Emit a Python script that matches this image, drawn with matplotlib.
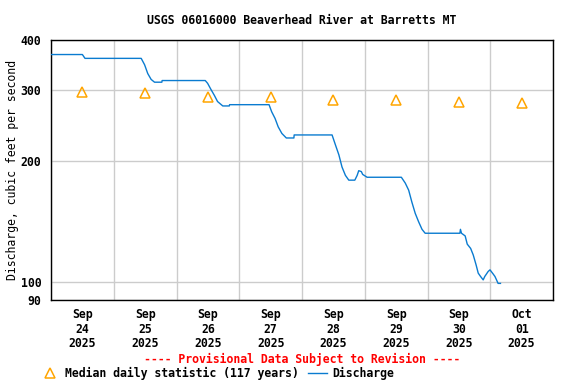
import matplotlib
matplotlib.use("Agg")
import matplotlib.pyplot as plt
import matplotlib.dates as mdates
import matplotlib.ticker as mticker
from matplotlib.lines import Line2D
import pandas as pd

# discharge readings: hours after 2025-09-24 00:00, cfs
hours = [0, 12.0, 12.5, 13.0, 34.5, 35.8, 37.0, 38.3, 39.6, 42.4, 42.5, 59.0,
         59.9, 61.2, 62.5, 63.7, 65.7, 68.2, 68.3, 83.4, 84.4, 85.7, 86.9, 88.3,
         90.0, 92.9, 93.0, 107.5, 108.8, 110.1, 111.3, 112.6, 113.9, 116.2, 117.1,
         117.7, 118.7, 119.2, 120.9, 134.0, 135.5, 136.8, 138.0, 139.3, 140.6,
         141.9, 143.1, 156.4, 156.6, 157.0, 158.4, 159.2, 160.5, 161.5, 162.6,
         163.4, 164.3, 165.3, 165.9, 167.2, 167.9, 169.1, 169.8, 170.4, 171.0, 171.9]
discharge = [368, 368, 364, 360, 360, 347, 330, 319, 314, 314, 317, 317,
             312, 301, 291, 281, 274, 274, 276, 276, 265, 255, 243, 234,
             228, 228, 232, 232, 219, 207, 193, 184, 179, 179, 184,
             189, 188, 185, 182, 182, 176, 169, 158, 148, 141,
             135, 132, 132, 135, 132, 130, 124, 121, 116.5, 110,
             105, 103, 101, 103, 106, 107, 104.5, 103, 101, 99, 99]

median_days = ["2025-09-24", "2025-09-25", "2025-09-26", "2025-09-27",
               "2025-09-28", "2025-09-29", "2025-09-30", "2025-10-01"]
median_vals = [297, 294.5, 288, 288, 284, 283, 281, 279]

y_ticks = [90, 100, 200, 300, 400]

start = pd.Timestamp("2025-09-24")
t = start + pd.to_timedelta(hours, unit="h")
mt = pd.to_datetime(median_days) + pd.Timedelta(hours=12)

plt.rcParams["font.family"] = "DejaVu Sans Mono"
plt.rcParams["font.weight"] = "bold"
plt.rcParams["font.size"] = 8.3

BLUE = "#0a7bd0"
ORANGE = "#ffa500"

fig = plt.figure(figsize=(5.76, 3.84), dpi=100)
ax = fig.add_axes([51 / 576, 84 / 384, 502 / 576, 260 / 384])

ax.plot(t, discharge, color=BLUE, lw=1.0, zorder=3)
ax.plot(mt, median_vals, ls="none", marker="^", ms=7, mfc="none",
        mec=ORANGE, mew=1.1, zorder=4)

ax.set_yscale("log")
ax.set_ylim(90, 400)
ax.set_yticks(y_ticks)
ax.set_yticklabels([str(v) for v in y_ticks])
ax.yaxis.set_minor_locator(mticker.NullLocator())
ax.set_xlim(pd.Timestamp("2025-09-24"), pd.Timestamp("2025-10-02"))

# grid at midnight, labels at noon
ax.xaxis.set_major_locator(mdates.DayLocator())
ax.xaxis.set_major_formatter(mticker.NullFormatter())
ax.xaxis.set_minor_locator(mdates.HourLocator(byhour=12))
ax.xaxis.set_minor_formatter(mdates.DateFormatter("%b\n%d\n%Y"))

ax.tick_params(axis="both", which="both", length=0)
ax.tick_params(axis="y", pad=7)
ax.tick_params(axis="x", which="minor", pad=6)
for lab in ax.xaxis.get_minorticklabels():
    lab.set_linespacing(1.15)

ax.grid(True, which="major", color="#cccccc", lw=1)
for s in ax.spines.values():
    s.set_linewidth(1.0)

ax.set_ylabel("Discharge, cubic feet per second", labelpad=1)

fig.text(0.524, 1 - 20 / 384, "USGS 06016000 Beaverhead River at Barretts MT",
         ha="center", va="center")
fig.text(0.524, 1 - 359 / 384, "---- Provisional Data Subject to Revision ----",
         ha="center", va="center", color="red")

h1 = Line2D([], [], ls="none", marker="^", ms=7, mfc="none", mec=ORANGE, mew=1.1)
h2 = Line2D([], [], color=BLUE, lw=1.0)
fig.legend([h1, h2], ["Median daily statistic (117 years)", "Discharge"],
           loc="center left", bbox_to_anchor=(41 / 576, 1 - 373 / 384), ncol=2,
           frameon=False, handlelength=1.6, handletextpad=0.5, columnspacing=0.8,
           borderpad=0, borderaxespad=0)

fig.savefig("out.png", dpi=100)
